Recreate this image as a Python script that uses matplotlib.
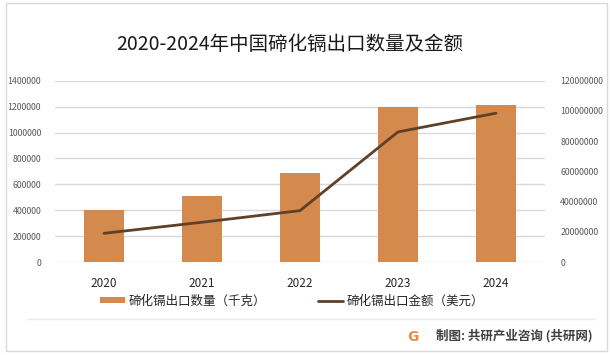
import matplotlib
matplotlib.use("Agg")
import matplotlib.pyplot as plt
from matplotlib.patches import Rectangle
from matplotlib.lines import Line2D
import numpy as np

plt.rcParams['font.family'] = ['Noto Sans CJK SC', 'DejaVu Sans']

years = ["2020", "2021", "2022", "2023", "2024"]
quantity_kg = [401000, 510000, 687000, 1197000, 1212000]
amount_usd = [19000000, 26300000, 34000000, 86100000, 98500000]
left_ticks = [0, 200000, 400000, 600000, 800000, 1000000, 1200000, 1400000]
right_ticks = [0, 20000000, 40000000, 60000000, 80000000, 100000000, 120000000]

title = "2020-2024年中国碲化镉出口数量及金额"
bar_label = "碲化镉出口数量（千克）"
line_label = "碲化镉出口金额（美元）"
footer = "制图: 共研产业咨询 (共研网)"

W, H = 610, 355
fig = plt.figure(figsize=(W / 100, H / 100), dpi=100)
fig.patch.set_facecolor("white")

ax = fig.add_axes([55 / W, (H - 262) / H, (545 - 55) / W, (262 - 80.7) / H])
x = np.arange(len(years))
bar_color = "#D48A4C"
line_color = "#5E4128"
bars = ax.bar(x, quantity_kg, width=0.4, color=bar_color, zorder=3, label=bar_label)
ax.set_ylim(0, 1400000)
ax.set_yticks(left_ticks)
ax.set_yticklabels([str(v) for v in left_ticks])
ax.set_xlim(-0.5, len(years) - 0.5)
ax.set_xticks(x)
ax.set_xticklabels(years)
ax.grid(axis="y", color="#D9D9D9", linewidth=1, zorder=0)
for s in ax.spines.values():
    s.set_visible(False)
ax.tick_params(axis="y", length=0, pad=10, labelsize=6.3, labelcolor="#595959")
ax.tick_params(axis="x", length=0, pad=11, labelsize=8.5, labelcolor="#262626")

ax2 = ax.twinx()
ln, = ax2.plot(x, amount_usd, color=line_color, linewidth=2.0, zorder=4,
               solid_capstyle="round", label=line_label)
ax2.set_ylim(0, 120000000)
ax2.set_yticks(right_ticks)
ax2.set_yticklabels([str(v) for v in right_ticks])
for s in ax2.spines.values():
    s.set_visible(False)
ax2.tick_params(axis="y", length=0, pad=11, labelsize=6.3, labelcolor="#595959")

fig.text(290 / W, 1 - 45 / H, title, ha="center", va="center", fontsize=14, color="#1a1a1a")

leg = fig.legend([bars, ln], [bar_label, line_label], loc="center",
                 bbox_to_anchor=(292 / W, 1 - 301 / H), ncol=2, frameon=False,
                 fontsize=9, handlelength=2.0, handleheight=0.45, handletextpad=0.25,
                 columnspacing=4.2, labelcolor="#262626")

# border and separator
fig.add_artist(Rectangle((6 / W, 1 - 351 / H), (607 - 6) / W, (351 - 3) / H,
                         transform=fig.transFigure, fill=False, edgecolor="#D9D9D9", linewidth=1))
fig.add_artist(Line2D([27 / W, 595 / W], [1 - 319 / H, 1 - 319 / H], transform=fig.transFigure,
                      color="#EBEBEB", linewidth=1))

fig.text(413 / W, 1 - 337 / H, "G", ha="center", va="center", fontsize=10, fontweight="bold",
         color="#F08A3C", family=["DejaVu Sans"])
fig.text(593 / W, 1 - 336 / H, footer, ha="right", va="center", fontsize=9, fontweight="bold",
         color="#404040")

fig.savefig("out.png", dpi=100)
